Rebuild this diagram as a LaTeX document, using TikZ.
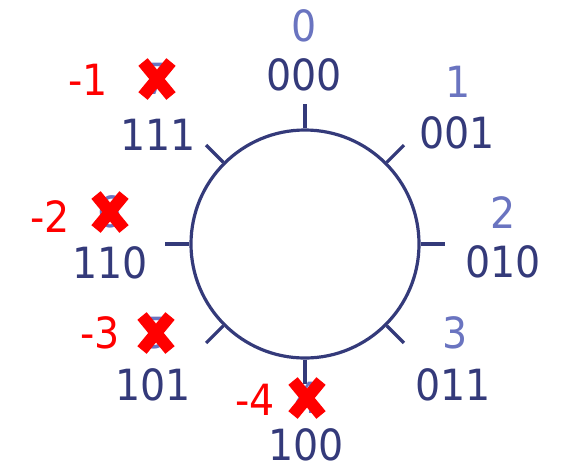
\documentclass[tikz,border=0pt]{standalone}
\usepackage{fontspec}
\setmainfont{DejaVu Sans}
\newfontfamily\labelfont[FakeStretch=0.92]{DejaVu Sans}
\usetikzlibrary{calc}
\definecolor{navy}{RGB}{52,58,122}
\definecolor{softblue}{RGB}{106,116,192}
\definecolor{markred}{RGB}{255,0,0}
\tikzset{
  lbl/.style={inner sep=0pt, font=\labelfont\fontsize{43}{50}\selectfont},
  bits/.style={lbl, text=navy},
  idx/.style={lbl, text=softblue},
  neg/.style={lbl, text=markred},
  ringline/.style={draw=navy, line width=3.2pt},
  cross/.style={draw=markred, line width=12pt},
}
\begin{document}
\begin{tikzpicture}[x=1pt,y=-1pt]
  \useasboundingbox (0,0) rectangle (564,467);
  % the ring with eight ticks
  \node[ringline, circle, minimum size=228pt, inner sep=0pt] (ring) at (305,244) {};
  \foreach \a in {0,45,...,315}
    \draw[ringline] (ring.\a) -- ($(ring.center)!1.21!(ring.\a)$);

  % binary labels
  \node[bits] (b0) at (304,75) {000};
  \node[bits] (b1) at (457,133) {001};
  \node[bits] (b2) at (503,262) {010};
  \node[bits] (b3) at (453,385) {011};
  \node[bits] (b4) at (306,445) {100};
  \node[bits] (b5) at (153,385) {101};
  \node[bits] (b6) at (110,263) {110};
  \node[bits] (b7) at (158,135) {111};

  % index labels
  \node[idx] (i0) at (304,26) {0};
  \node[idx] (i1) at (458,82) {1};
  \node[idx] (i2) at (503,213) {2};
  \node[idx] (i3) at (455,333) {3};
  \node[idx] (i4) at (307,398) {4};
  \node[idx] (i5) at (156,333) {5};
  \node[idx] (i6) at (110,212) {6};
  \node[idx] (i7) at (157,79) {7};

  % struck-out indices
  \foreach \n in {i4,i5,i6,i7} {
    \draw[cross] ($(\n)+(-14,-17)$) -- ($(\n)+(14,17)$);
    \draw[cross] ($(\n)+(14,-17)$) -- ($(\n)+(-14,17)$);
  }

  % negative indices
  \node[neg] (n1) at (88,80) {-1};
  \node[neg] (n2) at (50,217) {-2};
  \node[neg] (n3) at (100,333) {-3};
  \node[neg] (n4) at (255,400) {-4};
\end{tikzpicture}
\end{document}
